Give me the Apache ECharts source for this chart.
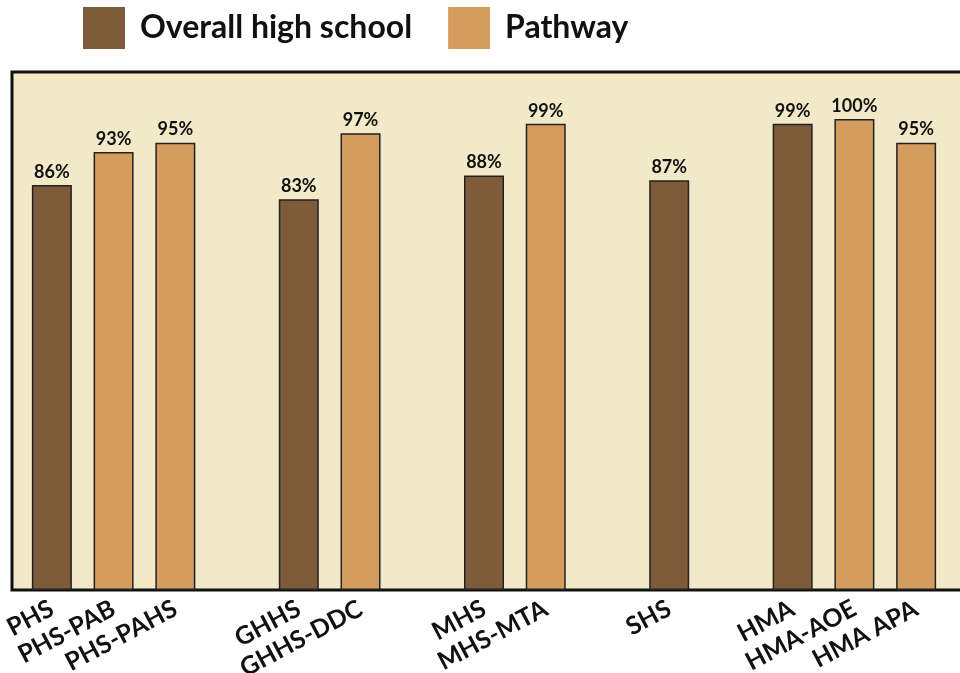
<!DOCTYPE html>
<html>
<head>
<meta charset="utf-8">
<script src="https://cdn.jsdelivr.net/npm/echarts@6/dist/echarts.min.js"></script>
<style>
html,body{margin:0;padding:0;background:#fff;}
#chart{width:960px;height:673px;}
</style>
</head>
<body>
<div id="chart"></div>
<script>
// Category slots (blank entries are spacer slots between school groups)
const categories = ['PHS', 'PHS-PAB', 'PHS-PAHS', ' ', 'GHHS', 'GHHS-DDC', '  ', 'MHS', 'MHS-MTA', '   ', 'SHS', '    ', 'HMA', 'HMA-AOE', 'HMA APA'];
// Series values (%)
const overallHighSchool = [86, null, null, null, 83, null, null, 88, null, null, 87, null, 99, null, null];
const pathway = [null, 93, 95, null, null, 97, null, null, 99, null, null, null, null, 100, 95];
const seriesNames = ['Overall high school', 'Pathway'];

const FONT = 'Lato';
const chart = echarts.init(document.getElementById('chart'), null, {renderer: 'canvas'});

const barLabel = {
  show: true,
  position: 'top',
  distance: 4,
  formatter: p => p.value + '%',
  color: '#111',
  fontFamily: FONT,
  fontWeight: 'bold',
  fontSize: 18
};

chart.setOption({
  backgroundColor: '#ffffff',
  animation: false,
  legend: {
    left: 83,
    top: 7,
    padding: 0,
    itemWidth: 42,
    itemHeight: 42,
    itemGap: 36,
    icon: 'rect',
    itemStyle: {borderWidth: 0},
    textStyle: {fontFamily: FONT, fontWeight: 'bold', fontSize: 32, color: '#111', padding: [0, 0, 0, 10]},
    data: seriesNames
  },
  grid: [
    {left: 12, top: 72, right: -20, bottom: 83, show: true, outerBoundsMode: 'none', containLabel: false, backgroundColor: '#F2E9C8', borderColor: '#111', borderWidth: 3},
    {left: 21, top: 72, right: 13, bottom: 83, show: false, outerBoundsMode: 'none', containLabel: false}
  ],
  xAxis: [
    {gridIndex: 0, type: 'category', show: false, data: categories},
    {
      gridIndex: 1,
      type: 'category',
      data: categories,
      axisLine: {show: false},
      axisTick: {show: false},
      axisLabel: {
        interval: 0,
        rotate: 28,
        margin: 17,
        color: '#111',
        fontFamily: FONT,
        fontWeight: 'bold',
        fontSize: 25
      }
    }
  ],
  yAxis: [
    {gridIndex: 0, type: 'value', show: false, min: 0, max: 110},
    {gridIndex: 1, type: 'value', show: false, min: 0, max: 110, splitLine: {show: false}}
  ],
  series: [
    {
      name: seriesNames[0],
      type: 'bar',
      xAxisIndex: 1,
      yAxisIndex: 1,
      data: overallHighSchool,
      barWidth: 40,
      barGap: '-100%',
      itemStyle: {color: '#7E5B3B', borderColor: '#222', borderWidth: 1.5},
      label: barLabel
    },
    {
      name: seriesNames[1],
      type: 'bar',
      xAxisIndex: 1,
      yAxisIndex: 1,
      data: pathway,
      barWidth: 40,
      barGap: '-100%',
      itemStyle: {color: '#D49D5F', borderColor: '#222', borderWidth: 1.5},
      label: barLabel
    }
  ]
});
</script>
</body>
</html>
